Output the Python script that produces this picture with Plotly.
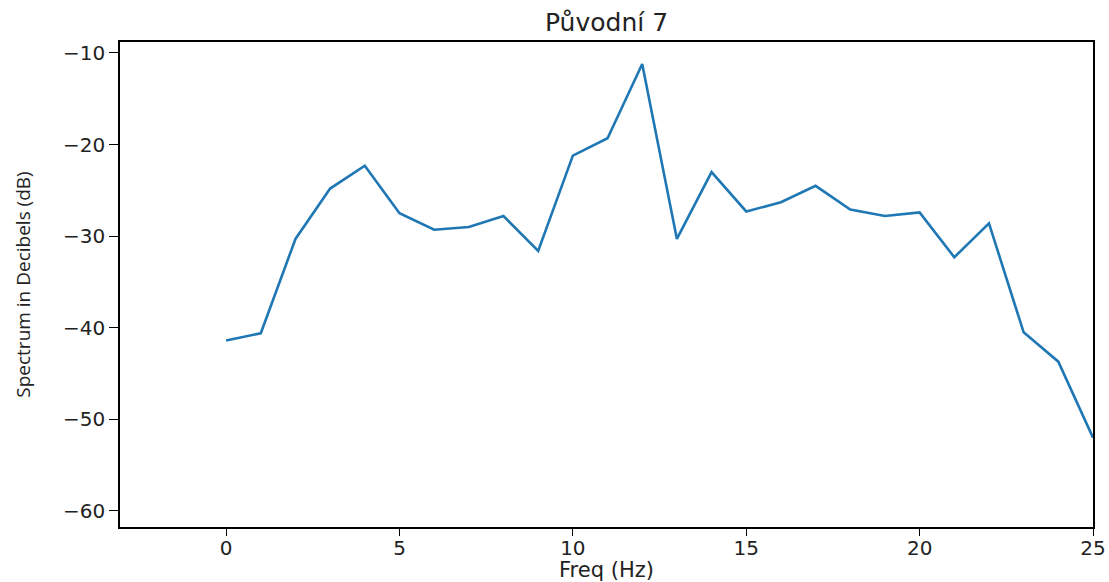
import plotly.graph_objects as go

freq = list(range(26))
spectrum_db = [-41.4, -40.6, -30.3, -24.8, -22.3, -27.5, -29.3, -29.0, -27.8, -31.6,
               -21.2, -19.3, -11.2, -30.3, -23.0, -27.3, -26.3, -24.5, -27.1, -27.8,
               -27.4, -32.3, -28.6, -40.5, -43.7, -52.0]
x_ticks = [0, 5, 10, 15, 20, 25]
y_ticks = [-10, -20, -30, -40, -50, -60]
y_tick_text = ["\u221210", "\u221220", "\u221230", "\u221240", "\u221250", "\u221260"]

fig = go.Figure()
fig.add_trace(go.Scatter(x=freq, y=spectrum_db, mode="lines",
                         line=dict(color="#1f77b4", width=2.6), showlegend=False))

axis_common = dict(showgrid=False, zeroline=False, showline=True, linecolor="black",
                   linewidth=1.5, mirror=True, ticks="outside",
                   tickwidth=1.3, tickcolor="black", automargin=False,
                   tickfont=dict(family="DejaVu Sans", size=20, color="#222"))

fig.update_layout(
    width=1109, height=582,
    margin=dict(l=120, r=16, t=42, b=55),
    paper_bgcolor="white", plot_bgcolor="white",
    title=dict(text="Původní 7", x=0.5, xanchor="center", y=0.962, yanchor="middle",
               xref="paper",
               font=dict(family="DejaVu Sans", size=25, color="#222")),
    xaxis=dict(range=[-3.06, 25], tickvals=x_ticks, ticklen=7, ticklabelstandoff=-5,
               title=dict(text="Freq (Hz)", standoff=2,
                          font=dict(family="DejaVu Sans", size=21, color="#222")),
               **axis_common),
    yaxis=dict(range=[-61.75, -8.8], tickvals=y_ticks, ticktext=y_tick_text, ticklen=9,
               title=dict(text="Spectrum in Decibels (dB)", standoff=27,
                          font=dict(family="Open Sans", size=19, color="#222")),
               **axis_common),
)

fig.write_html("out.html")
